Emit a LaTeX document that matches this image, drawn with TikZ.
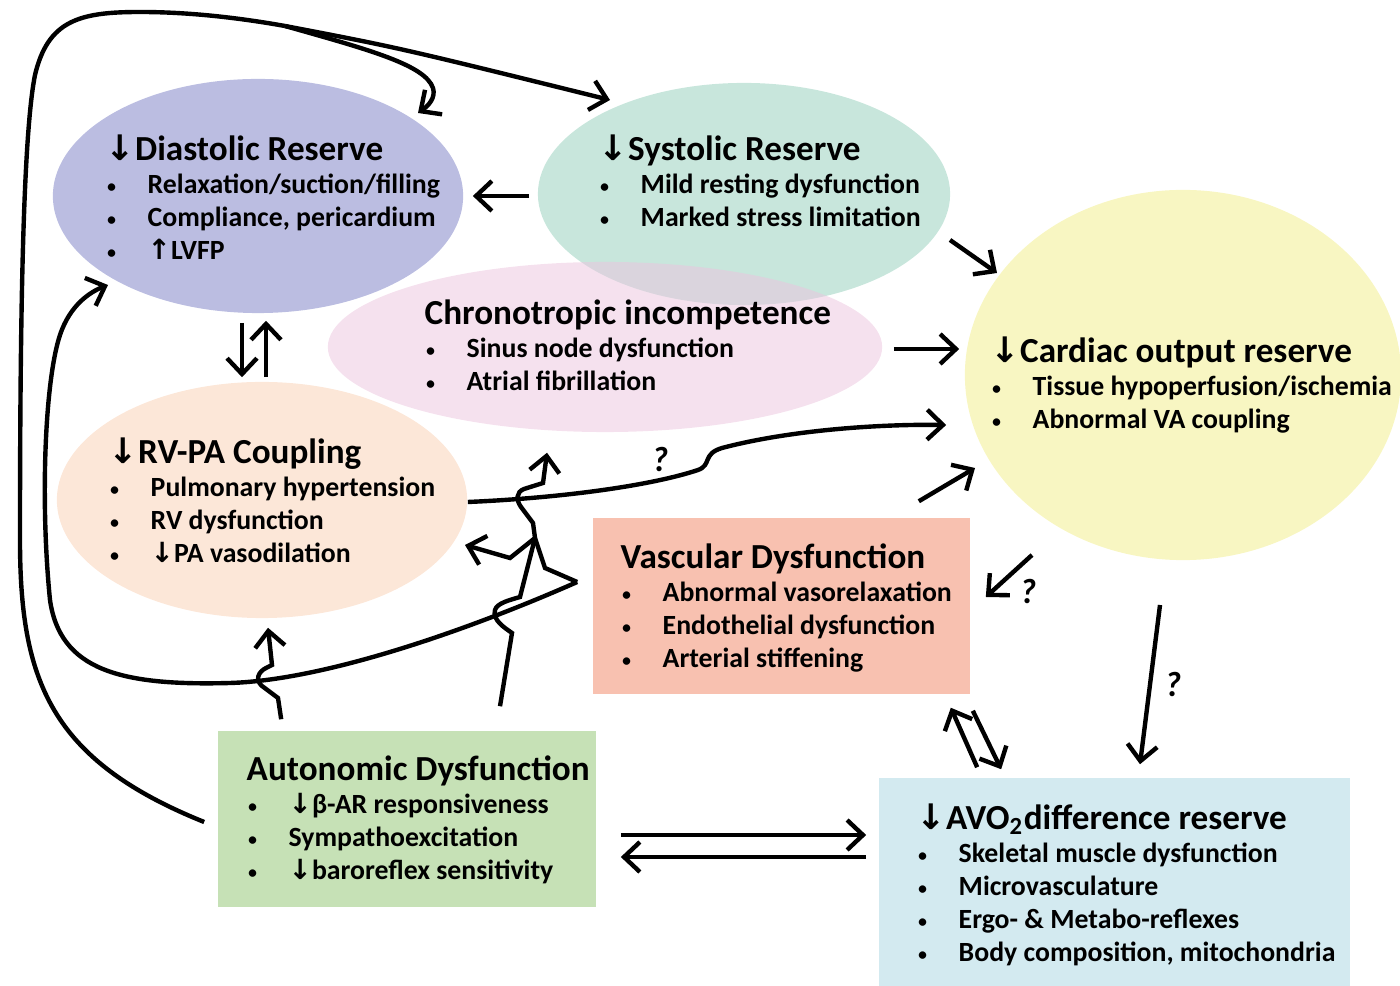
\documentclass[tikz,border=0pt]{standalone}
\usepackage{fontspec}
\setmainfont{Carlito}
\newfontfamily\symfont{DejaVu Sans}
\usetikzlibrary{shapes.geometric,arrows.meta}

\definecolor{diaC}{RGB}{187,189,225}
\definecolor{sysC}{RGB}{200,230,220}
\definecolor{chrC}{RGB}{236,196,222}
\definecolor{carC}{RGB}{248,246,194}
\definecolor{rvC}{RGB}{252,231,216}
\definecolor{vasC}{RGB}{248,193,176}
\definecolor{autC}{RGB}{198,225,182}
\definecolor{avoC}{RGB}{211,234,240}

\newcommand{\dn}{{\symfont\char"2193}}
\newcommand{\upar}{{\symfont\char"2191}}
\newcommand{\bul}{\makebox[0.42cm][l]{\hspace{0.2pt}{\mdseries\fontsize{6}{6}\selectfont\textbullet}}}
\newcommand{\ttl}[1]{{\fontsize{10}{12}\selectfont #1}\\[0pt]}

\tikzset{
  blob/.style={ellipse, inner sep=0pt},
  panel/.style={rectangle, inner sep=0pt},
  txt/.style={anchor=north west, align=left, inner sep=0pt,
    font=\bfseries\fontsize{7.9}{9.4}\selectfont},
  ln/.style={line width=1.25pt},
  arr/.style={ln, -{Straight Barb[length=4.5pt,width=8.5pt]}},
  qm/.style={font=\bfseries\itshape\fontsize{10}{12}\selectfont}
}

\begin{document}
\begin{tikzpicture}[x=0.01cm, y=-0.01cm]
  \useasboundingbox (0,0) rectangle (1400,986);

  % the boxes
  \node[blob, fill=sysC, minimum width=4.12cm, minimum height=2.22cm] (sys) at (744,194) {};
  \node[blob, fill=diaC, minimum width=4.1cm, minimum height=2.34cm] (dia) at (258,196) {};
  \node[blob, fill=chrC, fill opacity=0.5, minimum width=5.54cm, minimum height=1.7cm] (chr) at (605,347) {};
  \node[blob, fill=carC, minimum width=4.36cm, minimum height=3.7cm] (car) at (1183,375) {};
  \node[blob, fill=rvC, minimum width=4.1cm, minimum height=2.36cm] (rv) at (262,500) {};
  \node[panel, fill=vasC, minimum width=3.77cm, minimum height=1.76cm] (vas) at (781.5,606) {};
  \node[panel, fill=autC, minimum width=3.78cm, minimum height=1.76cm] (aut) at (407,819) {};
  \node[panel, fill=avoC, minimum width=4.71cm, minimum height=2.08cm] (avo) at (1114.5,882) {};

  % the texts
  \node[txt] (diaT) at (105,134) {\ttl{\dn Diastolic Reserve}\bul Relaxation/suction/filling\\ \bul Compliance, pericardium\\ \bul \upar LVFP};
  \node[txt] (sysT) at (598,134) {\ttl{\dn Systolic Reserve}\bul Mild resting dysfunction\\ \bul Marked stress limitation};
  \node[txt] (chrT) at (424,299) {\ttl{Chronotropic incompetence}\bul Sinus node dysfunction\\ \bul Atrial fibrillation};
  \node[txt] (carT) at (990,336) {\ttl{\dn Cardiac output reserve}\bul Tissue hypoperfusion/ischemia\\ \bul Abnormal VA coupling};
  \node[txt] (rvT) at (108,437) {\ttl{\dn RV-PA Coupling}\bul Pulmonary hypertension\\ \bul RV dysfunction\\ \bul \dn PA vasodilation};
  \node[txt] (vasT) at (620,543) {\ttl{Vascular Dysfunction}\bul Abnormal vasorelaxation\\ \bul Endothelial dysfunction\\ \bul Arterial stiffening};
  \node[txt] (autT) at (246,755) {\ttl{Autonomic Dysfunction}\bul \dn β-AR responsiveness\\ \bul Sympathoexcitation\\ \bul \dn baroreflex sensitivity};
  \node[txt] (avoT) at (916,803) {\ttl{\dn AVO\textsubscript{2}difference reserve}\bul Skeletal muscle dysfunction\\ \bul Microvasculature\\ \bul Ergo- \& Metabo-reflexes\\ \bul Body composition, mitochondria};

  % straight arrows
  \draw[arr] ([shift={(-8,2)}]sys.west) -- ([shift={(9,0)}]dia.east);
  \draw[arr] ([shift={(206,46)}]sys.center) -- ([shift={(-186,-102)}]car.center);
  \draw[arr] ([shift={(11,2)}]chr.east) -- ([shift={(-5,-26)}]car.west);
  \draw[arr] ([shift={(-16,9)}]dia.south) -- ([shift={(-20,-4)}]rv.north);
  \draw[arr] ([shift={(4,-4)}]rv.north) -- ([shift={(8,7)}]dia.south);
  \draw[arr] ([shift={(-52,-16)}]vas.north east) -- ([shift={(-208,93)}]car.center);
  \draw[arr] ([shift={(-151,180)}]car.center) -- ([shift={(15,-9)}]vas.east);
  \draw[arr] ([shift={(-23,230)}]car.center) -- ([shift={(25.5,-13)}]avo.north);
  \draw[arr] ([shift={(99,-10)}]avo.north west) -- ([shift={(-20,13)}]vas.south east);
  \draw[arr] ([shift={(2,16)}]vas.south east) -- ([shift={(123,-8)}]avo.north west);
  \draw[arr] ([shift={(24,16)}]aut.east) -- ([shift={(-12,-47)}]avo.west);
  \draw[arr] ([shift={(-12,-25)}]avo.west) -- ([shift={(24,38)}]aut.east);

  \node[qm] (q1) at (660,460) {?};
  \node[qm] (q2) at (1028,592) {?};
  \node[qm] (q3) at (1173,685) {?};

  % RV-PA to cardiac output
  \draw[arr] ([shift={(0,2)}]rv.east) .. controls (560,498) and (650,486) .. (698,470)
    .. controls (712,465) and (702,454) .. (722,448)
    .. controls (790,430) and (880,424) .. ([shift={(-18,50)}]car.west);

  % big loop from autonomic
  \coordinate (fork) at (285,26);
  \draw[ln] ([shift={(-13,3)}]aut.west) .. controls (50,760) and (20,680) .. (20,540)
    .. controls (20,350) and (22,140) .. (35,75)
    .. controls (48,20) and (80,12) .. (140,12)
    .. controls (190,12) and (240,18) .. (fork);
  \draw[arr] (fork) .. controls (400,48) .. ([shift={(-134,-94)}]sys.center);
  \draw[arr] (fork) .. controls (370,50) and (425,65) .. (433,88)
    .. controls (436,98) and (428,106) .. ([shift={(160,-83)}]dia.center);

  % vascular back to diastolic
  \draw[arr] ([shift={(-15,-24)}]vas.west) .. controls (480,625) and (330,680) .. (230,683)
    .. controls (120,686) and (60,670) .. (50,600)
    .. controls (40,500) and (45,380) .. (60,335)
    .. controls (70,305) and (90,292) .. ([shift={(-150,89)}]dia.center);

  % lines that jump over the others
  \coordinate (junc) at (535,538);
  \draw[ln] ([shift={(-15,-24)}]vas.west) -- (545,568) -- (junc);
  \draw[arr] ([shift={(93,-24)}]aut.north) -- (512,633)
    .. controls (505,628) and (492,620) .. (495,610)
    .. controls (497,603) and (510,600) .. (520,597) -- (junc) -- (533,523) -- (521,507)
    .. controls (516,500) and (516,492) .. (524,489) -- (543,483) -- ([shift={(-58,20)}]chr.south);
  \draw[arr] (junc) -- (510,558) -- ([shift={(203,45)}]rv.center);
  \draw[arr] ([shift={(64,-11)}]aut.north west) -- (278,698) -- (262,686)
    .. controls (255,680) and (258,672) .. (266,668) -- (272,665) -- ([shift={(6,9)}]rv.south);
\end{tikzpicture}
\end{document}
